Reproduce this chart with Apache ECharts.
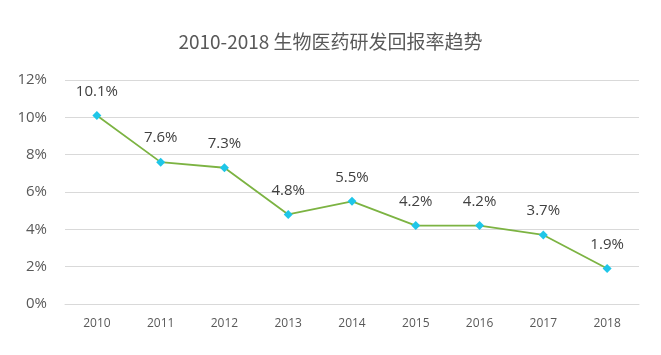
<!DOCTYPE html>
<html><head><meta charset="utf-8">
<script src="https://cdn.jsdelivr.net/npm/echarts@6/dist/echarts.min.js"></script>
<style>html,body{margin:0;padding:0;background:#fff}#c{width:661px;height:355px}</style>
</head><body><div id="c"></div>
<script>
const categories = ['2010','2011','2012','2013','2014','2015','2016','2017','2018'];
const values = [10.1, 7.6, 7.3, 4.8, 5.5, 4.2, 4.2, 3.7, 1.9];
const yTicks = [0, 2, 4, 6, 8, 10, 12];
const titleText = '2010-2018 生物医药研发回报率趋势';

const chart = echarts.init(document.getElementById('c'));
chart.setOption({
  animation: false,
  title: {
    text: titleText, left: 'center', top: 27,
    textStyle: {fontFamily: 'Noto Sans CJK SC', fontSize: 19, fontWeight: 'normal', color: '#595959'}
  },
  grid: {left: 65, right: 22, top: 80, bottom: 51},
  xAxis: {
    type: 'category', data: categories, boundaryGap: true,
    axisLine: {show: true, lineStyle: {color: '#d9d9d9'}},
    axisTick: {show: false},
    axisLabel: {color: '#595959', fontSize: 12, margin: 14, fontFamily: 'Open Sans'}
  },
  yAxis: {
    type: 'value', min: yTicks[0], max: yTicks[yTicks.length-1], interval: 2,
    axisLine: {show: false}, axisTick: {show: false},
    splitLine: {lineStyle: {color: '#d9d9d9', width: 1}},
    axisLabel: {color: '#595959', fontSize: 15, margin: 18, formatter: v => v + '%', fontFamily: 'Open Sans'}
  },
  series: [{
    type: 'line', data: values,
    symbol: 'diamond', symbolSize: 9,
    lineStyle: {color: '#7cb342', width: 1.8},
    itemStyle: {color: '#1fc6e8'},
    label: {show: true, position: 'top', distance: 12, color: '#404040', fontSize: 15,
      fontFamily: 'Open Sans', formatter: p => p.value.toFixed(1) + '%'}
  }]
});
</script></body></html>
